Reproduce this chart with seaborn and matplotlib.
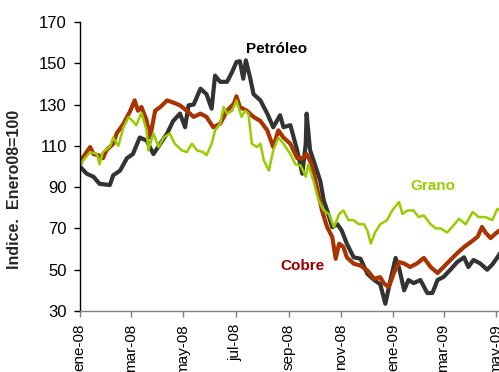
import numpy as np
import pandas as pd
import matplotlib
matplotlib.use("Agg")
import matplotlib.pyplot as plt
import matplotlib.dates as mdates
import seaborn as sns

# Commodity price indices, base January 2008 = 100.
# Days are counted from 1 January 2008.
petroleo_dias = [0, 8, 16, 23, 35, 39, 47, 55, 62, 70, 78, 86, 94, 102, 109, 117,
                 123, 127, 133, 141, 148, 154, 158, 164, 172, 178, 183, 187, 191,
                 194, 199, 203, 211, 219, 226, 234, 238, 246, 254, 260, 264, 265,
                 269, 273, 281, 285, 289, 295, 301, 306, 312, 320, 328, 336, 344,
                 351, 357, 363, 369, 373, 379, 384, 390, 398, 406, 412, 418, 425,
                 433, 441, 449, 454, 460, 468, 476, 482, 488, 491]
petroleo = [100, 96.5, 95, 91.6, 91, 95.7, 98, 104, 106, 114, 112.6, 106, 111, 116,
            122, 125.6, 119, 129.6, 130, 137.7, 135, 128, 144, 141, 141, 145.8,
            150.6, 151, 142.5, 151.4, 143, 135, 132, 125.6, 119, 124.8, 119, 120,
            107.8, 96.5, 111, 125.6, 108, 103, 93, 83.6, 78.7, 70.6, 72, 69, 62.6,
            56, 55.3, 48, 45, 43, 33.5, 45, 55.7, 51, 40, 45, 43.5, 45, 38.7, 38.7,
            45, 46.5, 50, 53.7, 56, 51.3, 54.7, 53, 50, 52.5, 56, 58]

cobre_dias = [0, 4, 12, 16, 22, 27, 31, 39, 43, 51, 59, 64, 68, 72, 78, 82, 88, 94,
              102, 109, 117, 125, 133, 141, 148, 156, 164, 172, 180, 183, 187, 195,
              203, 211, 219, 226, 232, 238, 246, 254, 260, 265, 271, 277, 283, 289,
              295, 299, 303, 308, 312, 320, 328, 336, 344, 351, 355, 361, 367, 373,
              379, 386, 394, 402, 410, 418, 425, 433, 441, 449, 457, 465, 470, 474,
              480, 486, 491]
cobre = [100.5, 104.6, 109.4, 106, 105.4, 104, 107.8, 111, 116, 120.7, 127, 132, 127,
         128.8, 122.3, 114, 127, 128.8, 132, 131, 129.6, 127, 124, 125.6, 124, 119,
         120.7, 127, 130.4, 134, 128.8, 127, 124, 122, 117.5, 109.4, 117.5, 114, 111,
         104, 104, 106, 101, 90, 78.7, 70.6, 65.8, 55.3, 62.6, 61, 56, 52.9, 52, 49.6,
         45.6, 46.4, 43.5, 41.6, 48.4, 53.7, 53, 51.3, 53, 55.7, 51.3, 48.4, 51.3,
         54.7, 58, 61, 63.4, 66, 70.7, 68, 65.3, 67.6, 69.2]

grano_dias = [0, 4, 12, 20, 23, 27, 35, 39, 45, 51, 57, 61, 66, 72, 78, 80, 86, 92,
              98, 105, 111, 119, 125, 131, 137, 144, 148, 154, 158, 164, 168, 172,
              178, 183, 189, 193, 197, 201, 207, 211, 215, 221, 226, 232, 238, 246,
              252, 258, 264, 267, 273, 279, 285, 291, 297, 303, 308, 314, 320, 326,
              332, 336, 340, 345, 351, 359, 365, 373, 377, 383, 390, 396, 402, 410,
              416, 422, 429, 435, 443, 451, 459, 466, 474, 482, 488, 491]
grano = [100.5, 103, 107, 106, 101, 107, 109.4, 114, 110, 119, 124, 122.3, 120, 126,
         117.5, 107.8, 116, 109.4, 114, 116, 111, 107.8, 107, 111, 107.8, 107, 105.4,
         111, 117.5, 120.7, 128.8, 125.6, 127, 132, 124, 127, 125.6, 111, 109.4, 111,
         103, 98, 107.8, 114, 111, 106, 101, 100.5, 95, 101, 93, 83.6, 78.7, 77, 70.6,
         77, 78.7, 74, 74, 72, 72, 69, 62.6, 68, 72, 74, 78.7, 82.8, 77, 78.7, 78.7,
         75.5, 76.3, 72, 70, 70, 68, 70.6, 74.7, 72, 78, 75.5, 75.5, 74, 79.5, 78.7]

meses = ["ene-08", "mar-08", "may-08", "jul-08", "sep-08", "nov-08",
         "ene-09", "mar-09", "may-09"]
fechas_meses = ["2008-01-01", "2008-03-01", "2008-05-01", "2008-07-01",
                "2008-09-01", "2008-11-01", "2009-01-01", "2009-03-01",
                "2009-05-01"]
y_ticks = [30, 50, 70, 90, 110, 130, 150, 170]

inicio = pd.Timestamp("2008-01-01")


def serie(dias, valores, nombre):
    return pd.DataFrame({"fecha": inicio + pd.to_timedelta(dias, unit="D"),
                         "indice": valores, "serie": nombre})


df = pd.concat([serie(petroleo_dias, petroleo, "Petróleo"),
                serie(cobre_dias, cobre, "Cobre"),
                serie(grano_dias, grano, "Grano")], ignore_index=True)

sns.set_theme(style="white")
plt.rcParams["font.family"] = ["Liberation Sans", "DejaVu Sans"]

fig = plt.figure(figsize=(4.99, 3.72), dpi=100)
ax = fig.add_axes([0.160, 0.164, 0.842, 0.777])

estilos = {"Petróleo": ("#333333", 3.0),
           "Cobre": ("#A83400", 3.0),
           "Grano": ("#99CC00", 1.8)}
for nombre in ["Petróleo", "Cobre", "Grano"]:
    color, ancho = estilos[nombre]
    sns.lineplot(data=df[df["serie"] == nombre], x="fecha", y="indice",
                 color=color, linewidth=ancho, ax=ax, legend=False,
                 estimator=None, sort=False)

ax.set_xlim(inicio, inicio + pd.Timedelta(days=491))
ax.set_ylim(30, 170)
ax.set_yticks(y_ticks)
ax.set_yticklabels([str(v) for v in y_ticks], fontsize=12)
ax.set_xticks(pd.to_datetime(fechas_meses))
ax.set_xticklabels(meses, rotation=90, fontsize=11, va="top")

ax.set_xlabel("")
ax.set_ylabel("Indice.  Enero08=100", fontsize=11.5, fontweight="bold")
ax.yaxis.set_label_coords(-0.137, 0.42)

for lado in ["top", "right"]:
    ax.spines[lado].set_visible(False)
ax.spines["left"].set_color("black")
ax.spines["left"].set_linewidth(1.0)
ax.spines["bottom"].set_color("#808080")
ax.spines["bottom"].set_linewidth(1.0)
ax.tick_params(axis="y", which="major", direction="out", length=4.3,
               width=1.0, colors="black", pad=5, left=True)
ax.tick_params(axis="x", which="major", direction="out", length=4.3,
               width=1.0, color="#808080", labelcolor="black", pad=5,
               bottom=True)

ax.text(inicio + pd.Timedelta(days=230), 156.8, "Petróleo", fontsize=11,
        fontweight="bold", color="black", ha="center", va="center")
ax.text(inicio + pd.Timedelta(days=413), 90.3, "Grano", fontsize=11,
        fontweight="bold", color="#99CC00", ha="center", va="center")
ax.text(inicio + pd.Timedelta(days=260), 51.8, "Cobre", fontsize=11,
        fontweight="bold", color="#990000", ha="center", va="center")

fig.savefig("out.png", dpi=100)
